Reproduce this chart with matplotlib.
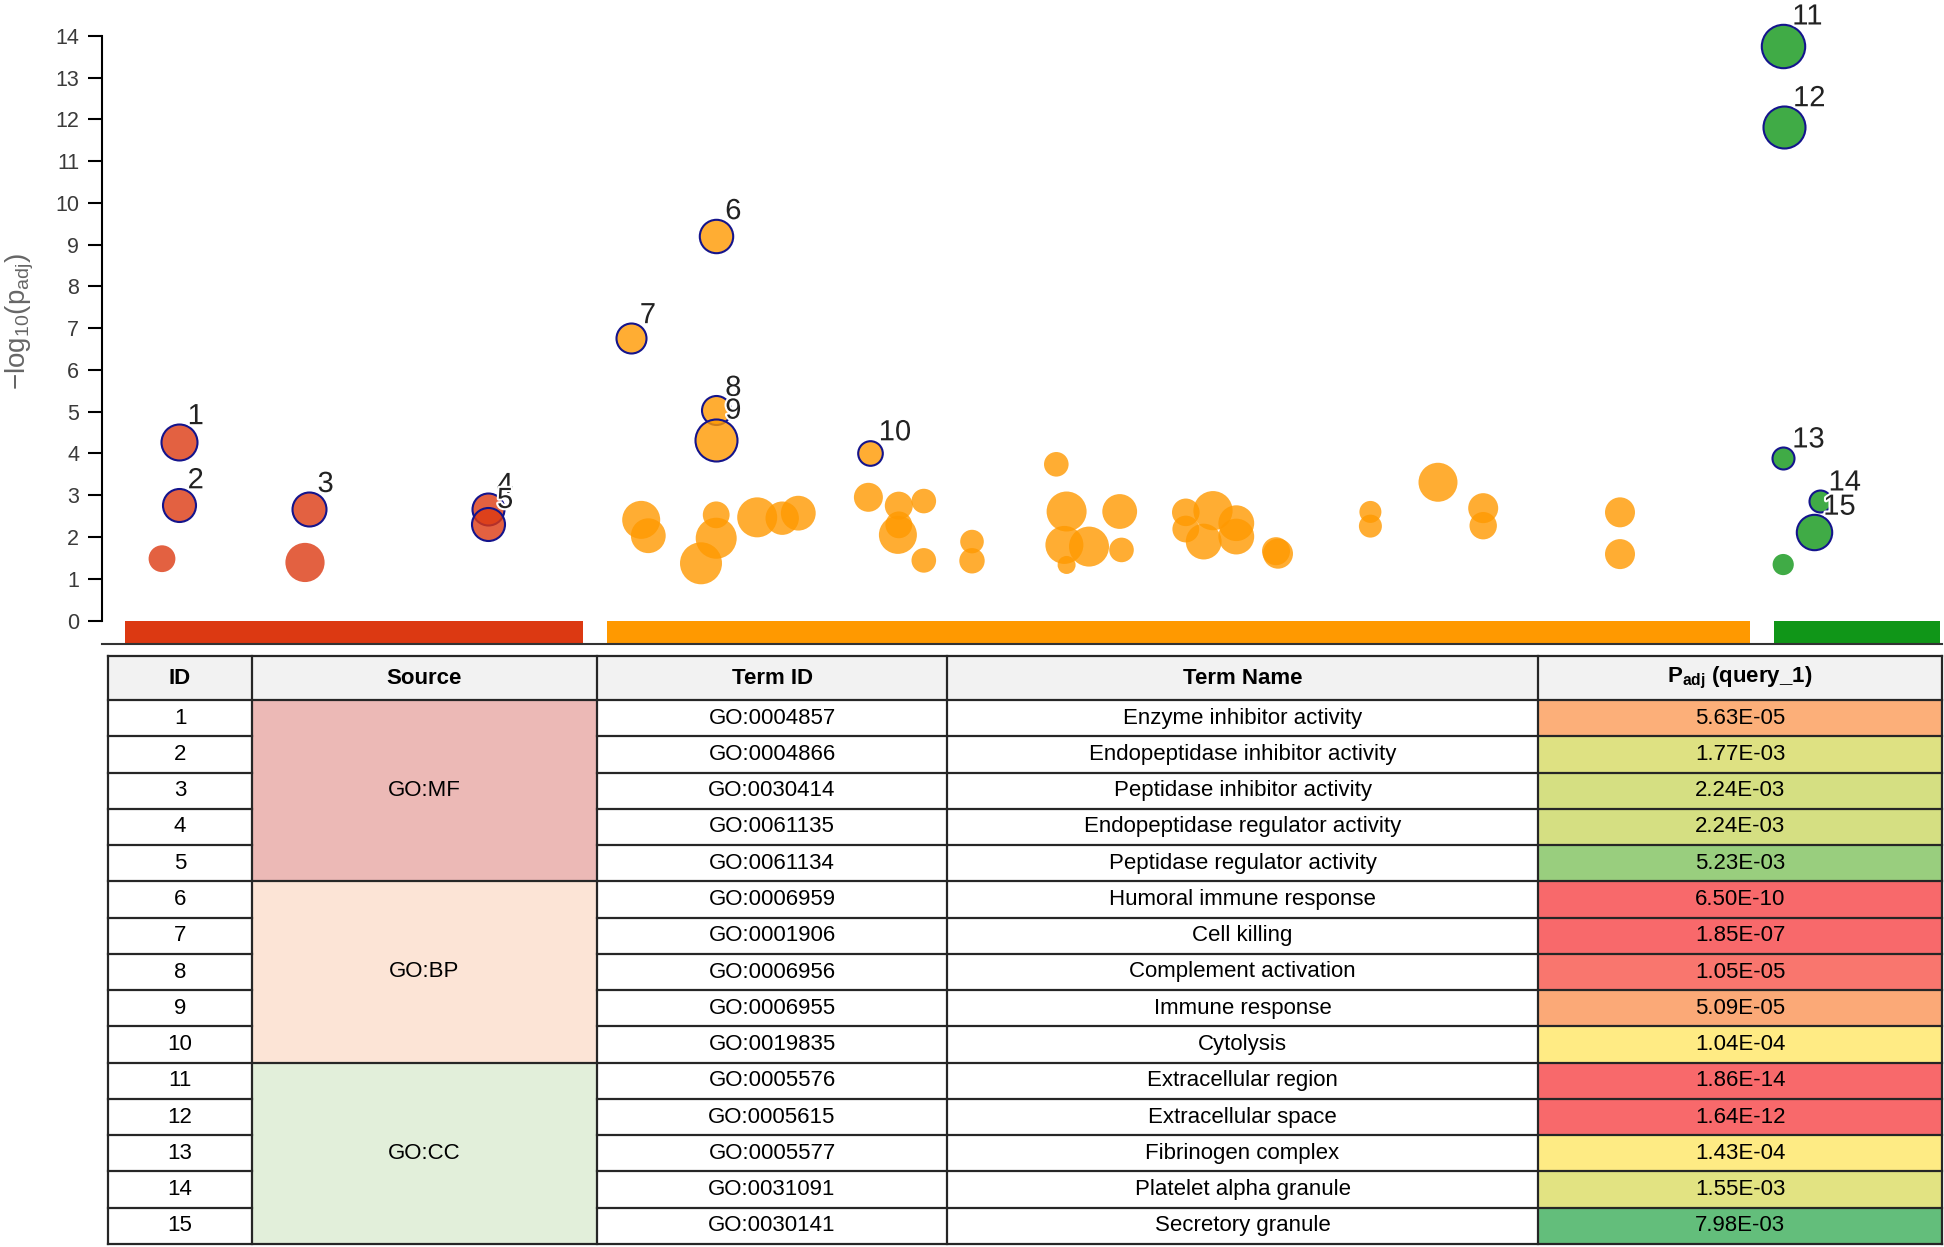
import matplotlib
matplotlib.use("Agg")
import matplotlib.pyplot as plt
import matplotlib.patheffects as pe
from matplotlib.colors import to_rgba
from matplotlib.patches import Rectangle
import numpy as np

# ---- Manhattan plot data (x = term position, y = -log10(p_adj), size = term size) ----
mf_pos = [76.6, 76.6, 60, 206.5, 203, 386, 386]
mf_logp = [4.27, 2.77, 1.48, 2.67, 1.39, 2.67, 2.30]
mf_size = [18, 16.5, 13.4, 17, 19.6, 16, 16.5]
mf_ids = [1, 2, None, 3, None, 4, 5]

bp_pos = [539.2, 546.3, 599, 614.2, 614.2, 655.2, 680.2, 696.3, 766.4, 796.8,
          796.8, 795.9, 821.8, 821.8, 870, 870, 954.3, 964.6, 962.4, 964.6,
          987, 1017.7, 1019.5, 1083.8, 1083.8, 1111, 1101.7, 1134.3, 1134.3, 1174,
          1176, 1268.4, 1268.4, 1336, 1381.2, 1381.2, 1518, 1518,
          528.8, 614.2, 614.2, 614.2, 767.7]
bp_logp = [2.41, 2.03, 1.37, 2.53, 1.97, 2.47, 2.45, 2.57, 2.95, 2.75,
           2.29, 2.05, 2.86, 1.44, 1.89, 1.43, 3.74, 2.61, 1.81, 1.33,
           1.77, 2.61, 1.69, 2.59, 2.19, 2.63, 1.89, 2.33, 2.01, 1.66,
           1.60, 2.60, 2.26, 3.31, 2.69, 2.27, 2.59, 1.59,
           6.76, 9.21, 5.03, 4.33, 4.02]
bp_size = [19, 17.4, 21, 13.4, 20.5, 20, 16.7, 17.4, 14.5, 14,
           13.4, 19, 12.3, 12.3, 11.8, 12.7, 12.3, 20, 19, 9,
           20, 17.4, 12.3, 13.8, 13.4, 19.6, 17.9, 17.9, 17.9, 14,
           15, 11, 11.5, 19.5, 15, 13.7, 15, 15,
           15, 16.7, 14.5, 21, 12.3]
bp_ids = [None] * 38 + [7, 6, 8, 9, 10]

cc_pos = [1681.2, 1681.2, 1682, 1681.2, 1717.5, 1712.2]
cc_logp = [1.34, 13.75, 11.81, 3.88, 2.85, 2.11]
cc_size = [10.6, 21.7, 21, 11, 11, 17.7]
cc_ids = [None, 11, 12, 13, 14, 15]

source_names = ["GO:MF", "GO:BP", "GO:CC"]
source_start = [23, 505, 1671.5]
source_end = [481, 1648, 1838]
source_colors = ["#dc3912", "#ff9900", "#109618"]

# ---- table data ----
row_ids = list(range(1, 16))
row_source = ["GO:MF"] * 5 + ["GO:BP"] * 5 + ["GO:CC"] * 5
term_ids = ["GO:0004857", "GO:0004866", "GO:0030414", "GO:0061135", "GO:0061134",
            "GO:0006959", "GO:0001906", "GO:0006956", "GO:0006955", "GO:0019835",
            "GO:0005576", "GO:0005615", "GO:0005577", "GO:0031091", "GO:0030141"]
term_names = ["Enzyme inhibitor activity", "Endopeptidase inhibitor activity",
              "Peptidase inhibitor activity", "Endopeptidase regulator activity",
              "Peptidase regulator activity", "Humoral immune response", "Cell killing",
              "Complement activation", "Immune response", "Cytolysis",
              "Extracellular region", "Extracellular space", "Fibrinogen complex",
              "Platelet alpha granule", "Secretory granule"]
padj = [5.63e-05, 1.77e-03, 2.24e-03, 2.24e-03, 5.23e-03,
        6.50e-10, 1.85e-07, 1.05e-05, 5.09e-05, 1.04e-04,
        1.86e-14, 1.64e-12, 1.43e-04, 1.55e-03, 7.98e-03]
source_fill = {"GO:MF": "#ecb9b6", "GO:BP": "#fce4d6", "GO:CC": "#e2efda"}


def excel_scale(v, vals):
    # Excel 3-colour scale: min red, median yellow, max green
    lo, hi, mid = min(vals), max(vals), np.percentile(vals, 50)
    red, yel, grn = np.array([248, 105, 107]), np.array([255, 235, 132]), np.array([99, 190, 123])
    if v <= mid:
        t = (v - lo) / (mid - lo)
        c = red + (yel - red) * t
    else:
        t = (v - mid) / (hi - mid)
        c = yel + (grn - yel) * t
    return tuple(c / 255)


W, H = 1944, 1247
fig = plt.figure(figsize=(W / 100, H / 100), dpi=100)

chart_font = ["Liberation Sans", "DejaVu Sans"]
table_font = ["Liberation Sans Narrow", "Liberation Sans", "DejaVu Sans"]

ax = fig.add_axes([102 / W, 1 - 643.7 / H, 1840 / W, 633 / H])
ax.set_xlim(0, 1840)
ax.set_ylim(-0.555, 14.6)

for s, e, c in zip(source_start, source_end, source_colors):
    ax.bar(s, 0.555, width=e - s, bottom=-0.555, align="edge", color=c, zorder=1)

halo = [pe.withStroke(linewidth=3, foreground="white")]
groups = [(mf_pos, mf_logp, mf_size, mf_ids, source_colors[0]),
          (bp_pos, bp_logp, bp_size, bp_ids, source_colors[1]),
          (cc_pos, cc_logp, cc_size, cc_ids, source_colors[2])]
labels = []
for xs, ys, rs, ids, col in groups:
    xs, ys, rs = np.array(xs), np.array(ys), np.array(rs)
    plain = np.array([i is None for i in ids])
    ax.scatter(xs[plain], ys[plain], s=(1.44 * rs[plain]) ** 2,
               facecolors=to_rgba(col, 0.8), edgecolors="none", zorder=2)
    order = sorted([k for k in range(len(ids)) if ids[k] is not None], key=lambda k: ids[k])
    for k in order:
        ax.scatter(xs[k], ys[k], s=(1.44 * rs[k]) ** 2, facecolors=to_rgba(col, 0.8),
                   edgecolors="#14148c", linewidths=1.5, zorder=3)
        labels.append((ids[k], xs[k], ys[k], rs[k]))

for i, x, y, r in labels:
    ax.annotate(str(i), (x, y), xytext=(6.5, r * 0.72), textcoords="offset points",
                ha="left", va="baseline", fontsize=21, family=chart_font,
                color="#222222", zorder=5, path_effects=halo)

ax.spines["top"].set_visible(False)
ax.spines["right"].set_visible(False)
ax.spines["left"].set_bounds(0, 14)
ax.spines["left"].set_linewidth(1.5)
ax.spines["bottom"].set_linewidth(1.5)
ax.spines["bottom"].set_color("#333333")
ax.set_yticks(range(0, 15))
ax.set_xticks([])
ax.tick_params(axis="y", length=10, width=1.5, pad=6.5, labelsize=15.5, labelcolor="#3a3a3a")
for t in ax.get_yticklabels():
    t.set_family(chart_font)

fig.text(20 / W, 1 - 321 / H, r"$\mathregular{-log_{10}(p_{adj})}$", rotation=90,
         ha="center", va="center", fontsize=20, color="#666666", family=chart_font)

# ---- table ----
tab = fig.add_axes([0, 0, 1, 1])
tab.set_xlim(0, W)
tab.set_ylim(H, 0)
tab.axis("off")

col_edges = [108, 252, 597, 947, 1538, 1942]
top, head_bot, bottom = 656, 700, 1244
row_h = (bottom - head_bot) / len(row_ids)
line_kw = dict(color="#262626", lw=1.6, zorder=3)
txt_kw = dict(ha="center", va="center", fontsize=16, family=table_font, color="black", zorder=4)

tab.add_patch(Rectangle((col_edges[0], top), col_edges[-1] - col_edges[0], head_bot - top,
                        facecolor="#f2f2f2", edgecolor="none"))
headers = ["ID", "Source", "Term ID", "Term Name", r"P$\mathregular{_{adj}}$ (query_1)"]
for j, h in enumerate(headers):
    cx = (col_edges[j] + col_edges[j + 1]) / 2
    tab.text(cx, (top + head_bot) / 2, h, fontweight="bold", **txt_kw)

for i in range(len(row_ids)):
    y0 = head_bot + i * row_h
    cy = y0 + row_h / 2
    tab.add_patch(Rectangle((col_edges[4], y0), col_edges[5] - col_edges[4], row_h,
                            facecolor=excel_scale(padj[i], padj), edgecolor="none"))
    tab.text((col_edges[0] + col_edges[1]) / 2, cy, str(row_ids[i]), **txt_kw)
    tab.text((col_edges[2] + col_edges[3]) / 2, cy, term_ids[i], **txt_kw)
    tab.text((col_edges[3] + col_edges[4]) / 2, cy, term_names[i], **txt_kw)
    tab.text((col_edges[4] + col_edges[5]) / 2, cy, f"{padj[i]:.2E}", **txt_kw)
    # horizontal row lines (skip source column inside merged blocks)
    yb = y0 + row_h
    last_in_block = i == len(row_ids) - 1 or row_source[i + 1] != row_source[i]
    if last_in_block:
        tab.plot([col_edges[0], col_edges[-1]], [yb, yb], **line_kw)
    else:
        tab.plot([col_edges[0], col_edges[1]], [yb, yb], **line_kw)
        tab.plot([col_edges[2], col_edges[-1]], [yb, yb], **line_kw)

for name in source_names:
    idx = [k for k, s in enumerate(row_source) if s == name]
    y0 = head_bot + idx[0] * row_h
    y1 = head_bot + (idx[-1] + 1) * row_h
    tab.add_patch(Rectangle((col_edges[1], y0), col_edges[2] - col_edges[1], y1 - y0,
                            facecolor=source_fill[name], edgecolor="none"))
    tab.text((col_edges[1] + col_edges[2]) / 2, (y0 + y1) / 2, name, **txt_kw)

tab.plot([col_edges[0], col_edges[-1]], [top, top], **line_kw)
tab.plot([col_edges[0], col_edges[-1]], [head_bot, head_bot], **line_kw)
for xe in col_edges:
    tab.plot([xe, xe], [top, bottom], **line_kw)

fig.savefig("out.png", dpi=100)
